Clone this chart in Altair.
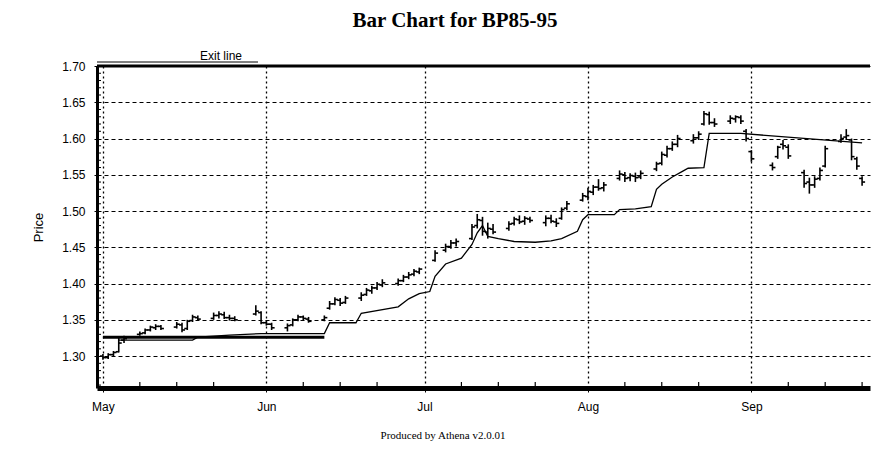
import altair as alt
import pandas as pd

# ---- price bars (OHLC) ----
dates = [
    "1995-05-01", "1995-05-02", "1995-05-03", "1995-05-04", "1995-05-05",
    "1995-05-08", "1995-05-09", "1995-05-10", "1995-05-11", "1995-05-12",
    "1995-05-15", "1995-05-16", "1995-05-17", "1995-05-18", "1995-05-19",
    "1995-05-22", "1995-05-23", "1995-05-24", "1995-05-25", "1995-05-26",
    "1995-05-30", "1995-05-31",
    "1995-06-01", "1995-06-02",
    "1995-06-05", "1995-06-06", "1995-06-07", "1995-06-08", "1995-06-09",
    "1995-06-12", "1995-06-13", "1995-06-14", "1995-06-15", "1995-06-16",
    "1995-06-19", "1995-06-20", "1995-06-21", "1995-06-22", "1995-06-23",
    "1995-06-26", "1995-06-27", "1995-06-28", "1995-06-29", "1995-06-30",
    "1995-07-03", "1995-07-05", "1995-07-06", "1995-07-07",
    "1995-07-10", "1995-07-11", "1995-07-12", "1995-07-13", "1995-07-14",
    "1995-07-17", "1995-07-18", "1995-07-19", "1995-07-20", "1995-07-21",
    "1995-07-24", "1995-07-25", "1995-07-26", "1995-07-27", "1995-07-28",
    "1995-07-31",
    "1995-08-01", "1995-08-02", "1995-08-03", "1995-08-04",
    "1995-08-07", "1995-08-08", "1995-08-09", "1995-08-10", "1995-08-11",
    "1995-08-14", "1995-08-15", "1995-08-16", "1995-08-17", "1995-08-18",
    "1995-08-21", "1995-08-22", "1995-08-23", "1995-08-24", "1995-08-25",
    "1995-08-28", "1995-08-29", "1995-08-30", "1995-08-31",
    "1995-09-01",
    "1995-09-05", "1995-09-06", "1995-09-07", "1995-09-08",
    "1995-09-11", "1995-09-12", "1995-09-13", "1995-09-14", "1995-09-15",
    "1995-09-18", "1995-09-19", "1995-09-20", "1995-09-21", "1995-09-22",
]

opens = [
    1.300, 1.298, 1.302, 1.306, 1.322, 1.330, 1.332, 1.336, 1.339, 1.341,
    1.340, 1.343, 1.338, 1.349, 1.353, 1.352, 1.356, 1.357, 1.353, 1.352,
    1.358, 1.360,
    1.346, 1.344, 1.339, 1.343, 1.350, 1.354, 1.351, 1.350, 1.366, 1.372,
    1.377, 1.374, 1.380, 1.385, 1.390, 1.394, 1.398, 1.400, 1.404, 1.409,
    1.413, 1.416,
    1.432, 1.446, 1.451, 1.456, 1.462, 1.480, 1.487, 1.471, 1.475, 1.476,
    1.483, 1.488, 1.486, 1.489, 1.484, 1.490, 1.485, 1.490, 1.504, 1.515,
    1.520, 1.526, 1.533, 1.532, 1.545, 1.550, 1.546, 1.548, 1.547, 1.558,
    1.566, 1.577, 1.586, 1.592, 1.597, 1.601, 1.620, 1.633, 1.622, 1.624,
    1.627, 1.629, 1.610,
    1.582, 1.563, 1.575, 1.592, 1.588, 1.553, 1.540, 1.536, 1.545, 1.562,
    1.596, 1.602, 1.598, 1.572, 1.545,
]

highs = [
    1.303, 1.304, 1.307, 1.326, 1.328, 1.334, 1.338, 1.342, 1.344, 1.343,
    1.347, 1.346, 1.350, 1.357, 1.356, 1.360, 1.362, 1.361, 1.357, 1.355,
    1.370, 1.362,
    1.349, 1.346, 1.345, 1.352, 1.357, 1.356, 1.354, 1.356, 1.376, 1.381,
    1.380, 1.383, 1.388, 1.394, 1.397, 1.402, 1.406, 1.407, 1.412, 1.416,
    1.420, 1.422,
    1.446, 1.455, 1.460, 1.462, 1.482, 1.496, 1.492, 1.484, 1.482, 1.486,
    1.492, 1.494, 1.493, 1.492, 1.494, 1.495, 1.490, 1.505, 1.514, 1.525,
    1.532, 1.536, 1.544, 1.540, 1.556, 1.554, 1.552, 1.553, 1.556, 1.568,
    1.582, 1.590, 1.596, 1.605, 1.606, 1.610, 1.638, 1.637, 1.628, 1.632,
    1.632, 1.632, 1.613,
    1.584, 1.567, 1.590, 1.598, 1.592, 1.557, 1.546, 1.548, 1.560, 1.590,
    1.606, 1.613, 1.600, 1.575, 1.548,
]

lows = [
    1.295, 1.296, 1.300, 1.305, 1.318, 1.328, 1.330, 1.334, 1.336, 1.336,
    1.338, 1.333, 1.336, 1.347, 1.349, 1.350, 1.352, 1.351, 1.349, 1.348,
    1.356, 1.344,
    1.342, 1.336, 1.334, 1.341, 1.348, 1.349, 1.346, 1.348, 1.364, 1.370,
    1.369, 1.372, 1.376, 1.383, 1.386, 1.391, 1.395, 1.397, 1.402, 1.406,
    1.410, 1.413,
    1.430, 1.443, 1.448, 1.451, 1.460, 1.476, 1.466, 1.462, 1.468, 1.473,
    1.480, 1.482, 1.481, 1.484, 1.479, 1.483, 1.478, 1.488, 1.501, 1.513,
    1.515, 1.522, 1.528, 1.527, 1.542, 1.540, 1.541, 1.540, 1.544, 1.555,
    1.563, 1.574, 1.583, 1.588, 1.593, 1.598, 1.618, 1.619, 1.616, 1.620,
    1.622, 1.620, 1.596,
    1.568, 1.556, 1.572, 1.585, 1.572, 1.532, 1.524, 1.532, 1.542, 1.560,
    1.594, 1.598, 1.570, 1.557, 1.535,
]

closes = [
    1.298, 1.302, 1.305, 1.318, 1.324, 1.331, 1.336, 1.340, 1.341, 1.338,
    1.344, 1.336, 1.348, 1.354, 1.351, 1.356, 1.358, 1.353, 1.352, 1.350,
    1.362, 1.346,
    1.344, 1.339, 1.342, 1.350, 1.354, 1.352, 1.348, 1.353, 1.372, 1.378,
    1.373, 1.380, 1.384, 1.391, 1.394, 1.399, 1.401, 1.404, 1.409, 1.412,
    1.417, 1.420,
    1.442, 1.451, 1.456, 1.458, 1.478, 1.488, 1.472, 1.476, 1.471, 1.482,
    1.489, 1.485, 1.490, 1.487, 1.490, 1.486, 1.483, 1.502, 1.510, 1.521,
    1.527, 1.533, 1.531, 1.536, 1.551, 1.545, 1.549, 1.546, 1.552, 1.565,
    1.578, 1.586, 1.592, 1.600, 1.601, 1.606, 1.634, 1.622, 1.620, 1.628,
    1.630, 1.624, 1.600,
    1.572, 1.560, 1.588, 1.590, 1.576, 1.538, 1.536, 1.544, 1.556, 1.586,
    1.600, 1.604, 1.575, 1.562, 1.540,
]

# ---- exit line ----
exit_dates = [
    "1995-05-04", "1995-05-18", "1995-05-19", "1995-05-25", "1995-05-31",
    "1995-06-12", "1995-06-13", "1995-06-18", "1995-06-19", "1995-06-26",
    "1995-06-28", "1995-06-30", "1995-07-02", "1995-07-03", "1995-07-05",
    "1995-07-08", "1995-07-10", "1995-07-11", "1995-07-12", "1995-07-13",
    "1995-07-15", "1995-07-18", "1995-07-22", "1995-07-25", "1995-07-27",
    "1995-07-30", "1995-07-31", "1995-08-01", "1995-08-06", "1995-08-07",
    "1995-08-10", "1995-08-13", "1995-08-14", "1995-08-15", "1995-08-17",
    "1995-08-19", "1995-08-20", "1995-08-23", "1995-08-24", "1995-08-30",
    "1995-09-22",
]
exit_values = [
    1.322, 1.322, 1.326, 1.329, 1.331,
    1.331, 1.346, 1.346, 1.359, 1.368,
    1.379, 1.386, 1.389, 1.410, 1.427,
    1.435, 1.454, 1.470, 1.480, 1.465,
    1.462, 1.458, 1.457, 1.459, 1.462,
    1.472, 1.488, 1.495, 1.495, 1.502,
    1.503, 1.506, 1.530, 1.537, 1.547,
    1.555, 1.559, 1.560, 1.607, 1.607,
    1.594,
]

# initial level (thick segment)
level_dates = ["1995-05-01", "1995-06-12"]
level_values = [1.326, 1.326]

# ---- axes ----
y_ticks = [1.30, 1.35, 1.40, 1.45, 1.50, 1.55, 1.60, 1.65, 1.70]
y_minor = [1.26, 1.27, 1.28, 1.29, 1.31, 1.32, 1.33, 1.34, 1.36, 1.37,
           1.38, 1.39, 1.41, 1.42, 1.43, 1.44, 1.46, 1.47, 1.48, 1.49,
           1.51, 1.52, 1.53, 1.54, 1.56, 1.57, 1.58, 1.59, 1.61, 1.62,
           1.63, 1.64, 1.66, 1.67, 1.68, 1.69]
top_value = [1.70]
x_minor = ["1995-05-08", "1995-05-15", "1995-05-22",
           "1995-06-08", "1995-06-15", "1995-06-22",
           "1995-07-08", "1995-07-15", "1995-07-22",
           "1995-08-08", "1995-08-15", "1995-08-22",
           "1995-09-08", "1995-09-15", "1995-09-22"]

W, H = 773, 322
SANS = "Liberation Sans"
SERIF = "Liberation Serif"

month_vals = [alt.DateTime(year=1995, month=m, date=1, utc=True) for m in (5, 6, 7, 8, 9)]
xscale = alt.Scale(type="utc", domain=[
    alt.DateTime(year=1995, month=4, date=29, hours=21, utc=True),
    alt.DateTime(year=1995, month=9, date=23, hours=12, utc=True)])
yscale = alt.Scale(domain=[1.256, 1.70], nice=False, zero=False)

xaxis = alt.Axis(values=month_vals, format="%b", title=None, grid=True,
                 gridDash=[2, 3], gridWidth=1.3, gridColor="black", gridOpacity=1,
                 domainWidth=5, domainColor="black", tickColor="black", tickSize=4,
                 labelPadding=9, labelFont=SANS, labelFontSize=12, labelColor="black")
yaxis = alt.Axis(values=y_ticks, format=".2f", title="Price", grid=True,
                 gridDash=[4, 3], gridWidth=1, gridColor="black", gridOpacity=1,
                 domainWidth=3, domainColor="black", tickColor="black", tickSize=3,
                 labelPadding=9, labelFont=SANS, labelFontSize=12, labelColor="black",
                 titleFont=SANS, titleFontSize=13, titleFontWeight="normal",
                 titleColor="black", titleX=-59, titleAngle=270,
                 titleAlign="center", titleBaseline="middle")

df = pd.DataFrame({"date": dates, "open": opens, "high": highs,
                   "low": lows, "close": closes})
base = alt.Chart(df)

X = alt.X("date:T", scale=xscale, axis=xaxis)

hl = base.mark_rule(color="black", strokeWidth=1.6).encode(
    x=X,
    y=alt.Y("low:Q", scale=yscale, axis=yaxis),
    y2="high:Q")
op = base.mark_rule(color="black", strokeWidth=1.6, xOffset=-3, x2Offset=0).encode(
    x=X, x2="date:T", y=alt.Y("open:Q", scale=yscale, axis=yaxis))
cl = base.mark_rule(color="black", strokeWidth=1.6, xOffset=0, x2Offset=3).encode(
    x=X, x2="date:T", y=alt.Y("close:Q", scale=yscale, axis=yaxis))

exit_df = pd.DataFrame({"date": exit_dates, "price": exit_values})
exit_line = alt.Chart(exit_df).mark_line(color="black", strokeWidth=1.3).encode(
    x=X, y=alt.Y("price:Q", scale=yscale, axis=yaxis))

level_df = pd.DataFrame({"date": level_dates, "price": level_values})
level_line = alt.Chart(level_df).mark_line(color="black", strokeWidth=3).encode(
    x=X, y=alt.Y("price:Q", scale=yscale, axis=yaxis))

top = alt.Chart(pd.DataFrame({"price": top_value})).mark_rule(
    color="black", strokeWidth=3).encode(y=alt.Y("price:Q", scale=yscale, axis=yaxis))

ymin = alt.Chart(pd.DataFrame({"price": y_minor})).mark_rule(
    color="black", strokeWidth=1).encode(
    x=alt.value(0), x2=alt.value(4), y=alt.Y("price:Q", scale=yscale, axis=yaxis))

xmin = alt.Chart(pd.DataFrame({"date": x_minor})).mark_rule(
    color="black", strokeWidth=1.2).encode(
    x=X, y=alt.value(H), y2=alt.value(H - 6))

def label(text, x, y, size, font, weight="normal", align="center"):
    return alt.Chart(pd.DataFrame({"t": [text]})).mark_text(
        font=font, fontSize=size, fontWeight=weight, color="black",
        align=align, baseline="middle").encode(
        x=alt.value(x), y=alt.value(y), text="t:N")

title = label("Bar Chart for BP85-95", 358, -45, 21, SERIF, "bold")
footer = label("Produced by Athena v2.0.01", 346, 370, 11, SERIF)
legend_txt = label("Exit line", 103, -10, 12, SANS, align="left")
legend_line = alt.Chart(pd.DataFrame({"p": [0]})).mark_rule(
    color="black", strokeWidth=1).encode(
    x=alt.value(0), x2=alt.value(161), y=alt.value(-4))

chart = alt.layer(
    hl, op, cl, exit_line, level_line, top, ymin, xmin,
    title, footer, legend_txt, legend_line
).properties(
    width=W, height=H,
    padding={"left": 89, "top": 58, "right": 5, "bottom": 62},
    autosize="none",
    background="white",
).configure_view(stroke=None)

chart.save("out.html", embed_options={"renderer": "svg", "actions": False})
